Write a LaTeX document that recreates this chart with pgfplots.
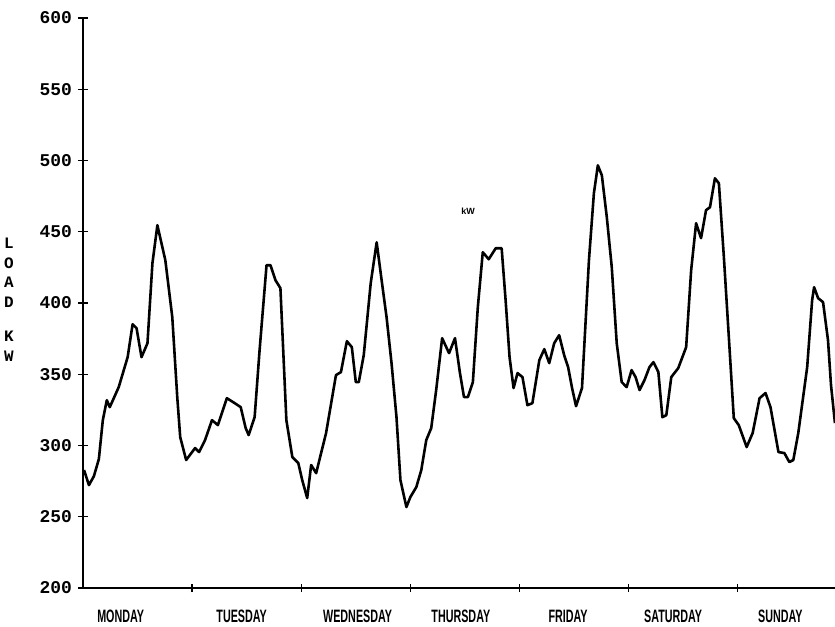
\documentclass[border=0pt]{standalone}
\usepackage{fontspec}
\usepackage{graphicx}
\setmainfont{Liberation Sans}
\newfontfamily\monofont{Liberation Mono}
\usepackage{pgfplots}
\pgfplotsset{compat=1.18}
\begin{document}
\begin{tikzpicture}
\useasboundingbox (0,0) rectangle (835bp,627bp);
\begin{axis}[
  at={(83bp,39bp)}, anchor=south west,
  width=752bp, height=570bp, scale only axis,
  xmin=0, xmax=165.4, ymin=200, ymax=600,
  axis x line=bottom, axis y line=left,
  axis line style={-, line width=1.8pt},
  ytick={200,250,...,600},
  xtick={8.29,34.9,60.4,83.1,106.7,129.8,153.4},
  xticklabels={\scalebox{0.6}[1]{MONDAY},\scalebox{0.6}[1]{TUESDAY},\scalebox{0.6}[1]{WEDNESDAY},\scalebox{0.6}[1]{THURSDAY},\scalebox{0.6}[1]{FRIDAY},\scalebox{0.6}[1]{SATURDAY},\scalebox{0.6}[1]{SUNDAY}},
  minor xtick={24,48,72,96,120,144},
  major x tick style={draw=none},
  tick align=center,
  major tick length=10bp, minor tick length=8bp,
  tick style={line width=1.4pt, black},
  xticklabel style={anchor=center, yshift=-23bp, font=\fontsize{18}{18}\selectfont\bfseries},
  yticklabel style={anchor=east, inner sep=0pt, xshift=-6bp, font=\monofont\fontsize{18}{18}\selectfont\bfseries},
  /pgf/number format/assume math mode=true,
  clip=false,
]
\addplot[black, line width=2.6pt, line join=round] coordinates {
(0.22,282.8) (1.31,272.2) (2.40,278.5) (3.49,290.5) (4.36,317.8) (5.24,331.8) (5.89,326.9)
(7.86,341.0) (9.82,362.0) (10.91,385.1) (11.78,382.3) (12.87,362.0) (14.18,371.8) (15.27,427.9)
(16.36,454.6) (18.11,430.0) (19.64,390.0) (20.73,334.0) (21.38,305.9) (22.69,289.8) (24.66,298.2)
(25.53,295.4) (26.84,303.8) (28.37,317.8) (29.67,314.3) (30.55,322.7) (31.64,333.2) (33.38,329.7)
(34.69,326.9) (35.78,312.2) (36.44,307.3) (37.75,319.9) (38.84,366.9) (40.37,426.5) (41.24,426.5)
(42.33,416.0) (43.42,410.4) (44.73,317.8) (46.04,291.9) (47.35,287.7) (48.22,275.7) (49.31,263.1)
(50.18,286.3) (51.28,280.6) (53.46,308.7) (55.64,349.4) (56.73,351.5) (58.04,373.2) (59.13,369.0)
(60.00,344.5) (60.66,344.5) (61.75,363.4) (63.28,413.9) (64.59,442.6) (65.68,416.0) (66.77,390.0)
(67.86,357.8) (68.95,319.9) (69.82,275.7) (71.13,256.8) (72.00,263.8) (73.31,270.8) (74.41,282.8)
(75.50,303.8) (76.59,312.2) (77.68,338.9) (78.99,375.3) (80.51,364.8) (81.82,375.3) (82.91,350.8)
(83.79,334.0) (84.66,334.0) (85.75,344.5) (86.84,397.1) (87.93,435.6) (89.24,430.7) (90.77,438.4)
(92.08,438.4) (92.95,402.0) (93.82,362.0) (94.70,340.3) (95.57,350.8) (96.66,348.0) (97.75,328.3)
(98.84,329.7) (100.37,359.9) (101.46,367.6) (102.55,357.8) (103.64,371.8) (104.73,377.4) (105.83,363.4)
(106.70,355.0) (107.57,340.3) (108.44,327.6) (109.75,340.3) (111.28,430.0) (112.37,477.0) (113.24,496.6)
(114.12,489.6) (115.21,460.2) (116.30,425.1) (117.39,371.8) (118.48,344.5) (119.57,341.0) (120.66,352.9)
(121.54,348.0) (122.41,338.9) (123.50,345.9) (124.59,355.0) (125.46,358.5) (126.55,351.5) (127.43,319.9)
(128.30,321.3) (129.39,348.0) (130.92,354.3) (132.66,369.0) (133.76,423.0) (134.85,456.0) (135.94,445.5)
(137.03,465.1) (137.90,467.2) (138.99,487.5) (139.86,484.0) (140.96,432.1) (142.05,376.0) (143.14,319.2)
(144.23,314.3) (145.97,298.9) (147.28,308.7) (148.81,333.2) (150.12,336.8) (151.21,326.9) (152.96,295.4)
(154.26,294.7) (155.35,288.4) (156.23,289.8) (157.32,308.7) (159.28,355.0) (160.37,402.0) (160.80,411.1)
(161.68,403.4) (162.77,400.6) (163.86,373.9) (164.52,342.4) (165.39,315.7)
};
\node[font=\fontsize{9}{10}\selectfont\bfseries, inner sep=0pt] at (axis cs:84.7,464.4) {kW};
\node[anchor=north, align=center, inner sep=0pt, font=\monofont\fontsize{16}{20}\selectfont\bfseries]
  at (axis cs:0,446) [xshift=-74bp] {L\\O\\A\\D\\[14pt]K\\W};
\end{axis}
\end{tikzpicture}
\end{document}
